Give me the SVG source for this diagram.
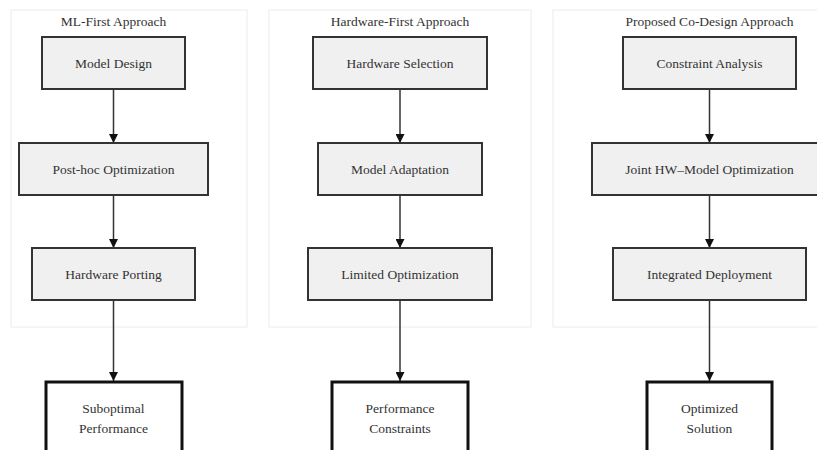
<svg xmlns="http://www.w3.org/2000/svg" width="817" height="450" viewBox="0 0 817 450">
<style>
.cluster{fill:#ffffff;stroke:#ececec;stroke-width:1}
.box{fill:#f0f0f0;stroke:#333333;stroke-width:2}
.final{fill:#ffffff;stroke:#111111;stroke-width:3}
text{font-family:"Liberation Serif","Times New Roman",serif;font-size:13.5px;fill:#333333;text-anchor:middle}
.edge{stroke:#333333;stroke-width:1.5;fill:none;marker-end:url(#arr)}
</style>
<defs>
<marker id="arr" viewBox="0 0 10 10" refX="10" refY="5" markerWidth="6" markerHeight="6" orient="auto" markerUnits="strokeWidth">
<path d="M0,0 L10,5 L0,10 z" fill="#111111"/>
</marker>
</defs>
<rect width="817" height="450" fill="#ffffff"/>
<g id="cluster-ml">
<rect class="cluster" x="11" y="10" width="236" height="317"/>
<text x="113.5" y="25.5">ML-First Approach</text>
</g>
<g id="cluster-hw">
<rect class="cluster" x="269" y="10" width="262" height="317"/>
<text x="400" y="25.5">Hardware-First Approach</text>
</g>
<g id="cluster-co">
<rect class="cluster" x="553" y="10" width="290" height="317"/>
<text x="709.5" y="25.5">Proposed Co-Design Approach</text>
</g>
<g id="connectors">
<line class="edge" x1="113.5" y1="89" x2="113.5" y2="143"/>
<line class="edge" x1="113.5" y1="195" x2="113.5" y2="248"/>
<line class="edge" x1="113.5" y1="300" x2="113.5" y2="381"/>
<line class="edge" x1="400" y1="89" x2="400" y2="143"/>
<line class="edge" x1="400" y1="195" x2="400" y2="248"/>
<line class="edge" x1="400" y1="300" x2="400" y2="381"/>
<line class="edge" x1="709.5" y1="89" x2="709.5" y2="143"/>
<line class="edge" x1="709.5" y1="195" x2="709.5" y2="248"/>
<line class="edge" x1="709.5" y1="300" x2="709.5" y2="381"/>
</g>
<g id="model-design"><rect class="box" x="42" y="37" width="143" height="52"/><text x="113.5" y="67.5">Model Design</text></g>
<g id="post-hoc"><rect class="box" x="19" y="143" width="189" height="52"/><text x="113.5" y="173.5">Post-hoc Optimization</text></g>
<g id="hw-porting"><rect class="box" x="32" y="248" width="163" height="52"/><text x="113.5" y="278.5">Hardware Porting</text></g>
<g id="suboptimal"><rect class="final" x="46" y="382" width="136" height="90"/><text x="113.5" y="412.5">Suboptimal</text><text x="113.5" y="432.5">Performance</text></g>
<g id="hw-selection"><rect class="box" x="313" y="37" width="174" height="52"/><text x="400" y="67.5">Hardware Selection</text></g>
<g id="model-adaptation"><rect class="box" x="318" y="143" width="164" height="52"/><text x="400" y="173.5">Model Adaptation</text></g>
<g id="limited-opt"><rect class="box" x="308" y="248" width="184" height="52"/><text x="400" y="278.5">Limited Optimization</text></g>
<g id="perf-constraints"><rect class="final" x="332" y="382" width="136" height="90"/><text x="400" y="412.5">Performance</text><text x="400" y="432.5">Constraints</text></g>
<g id="constraint-analysis"><rect class="box" x="623" y="37" width="173" height="52"/><text x="709.5" y="67.5">Constraint Analysis</text></g>
<g id="joint-opt"><rect class="box" x="592" y="143" width="235" height="52"/><text x="709.5" y="173.5">Joint HW–Model Optimization</text></g>
<g id="integrated-deploy"><rect class="box" x="613" y="248" width="193" height="52"/><text x="709.5" y="278.5">Integrated Deployment</text></g>
<g id="optimized-solution"><rect class="final" x="647" y="382" width="125" height="90"/><text x="709.5" y="412.5">Optimized</text><text x="709.5" y="432.5">Solution</text></g>
</svg>
